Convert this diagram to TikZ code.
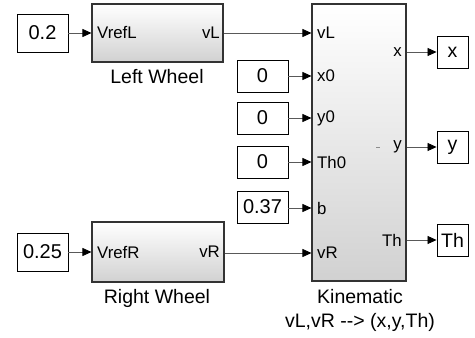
\documentclass[tikz,border=0pt]{standalone}
\usepackage{fontspec}
\setmainfont{Liberation Sans}
\usetikzlibrary{arrows.meta}
\begin{document}
\begin{tikzpicture}[x=1pt,y=-1pt,
  blk/.style={draw=black!80, line width=1.1pt, top color=white, bottom color=black!18, inner sep=0pt},
  cst/.style={draw=black, line width=0.9pt, fill=white, inner sep=0pt, font=\fontsize{20}{24}\selectfont},
  outb/.style={draw=black, line width=0.9pt, fill=white, inner sep=0pt, minimum width=31pt, minimum height=32pt, font=\fontsize{19.5}{23}\selectfont},
  port/.style={inner sep=0pt, font=\fontsize{16.8}{20}\selectfont},
  lbl/.style={inner sep=0pt, font=\fontsize{19.5}{23}\selectfont},
  sig/.style={draw=black!65, line width=0.8pt, -{Triangle[length=9pt,width=8pt,color=black]}}
]
\useasboundingbox (0,0) rectangle (475,338);
\fill[white] (0,0) rectangle (475,338);

% blocks
\node[blk, minimum width=131pt, minimum height=58pt] (LW) at (157.5,33) {};
\node[blk, minimum width=132pt, minimum height=60pt] (RW) at (158,252) {};
\node[blk, minimum width=94pt, minimum height=277pt] (K) at (359,142.5) {};

% constants
\node[cst, minimum width=51pt, minimum height=38pt] (c02) at (42.5,33) {0.2};
\node[cst, minimum width=51pt, minimum height=38pt] (c025) at (42.5,252) {0.25};
\node[cst, minimum width=51pt, minimum height=32pt] (c0a) at (262.5,76) {0};
\node[cst, minimum width=51pt, minimum height=32pt] (c0b) at (262.5,118) {0};
\node[cst, minimum width=51pt, minimum height=32pt] (c0c) at (262.5,162) {0};
\node[cst, minimum width=51pt, minimum height=32pt] (c037) at (262.5,207) {0.37};

% outputs
\node[outb] (xo) at (452.5,52) {x};
\node[outb] (yo) at (452.5,147) {y};
\node[outb] (tho) at (452.5,240) {Th};

% port labels
\node[port, anchor=west] (pVrefL) at (97,33) {VrefL};
\node[port, anchor=east] (pvLo) at (220,33) {vL};
\node[port, anchor=west] (pVrefR) at (97,252) {VrefR};
\node[port, anchor=east] (pvRo) at (220,252) {vR};
\node[port, anchor=west] (kvL) at (317,33) {vL};
\node[port, anchor=west] (kx0) at (317,76) {x0};
\node[port, anchor=west] (ky0) at (317,118) {y0};
\node[port, anchor=west] (kTh0) at (317,162) {Th0};
\node[port, anchor=west] (kb) at (317,208) {b};
\node[port, anchor=west] (kvR) at (317,253) {vR};
\node[port, anchor=east] (kx) at (402,52) {x};
\node[port, anchor=east] (ky) at (402,147) {y};
\node[port, anchor=east] (kTh) at (402,240) {Th};

% block labels
\node[lbl] (lLW) at (157,77) {Left Wheel};
\node[lbl] (lRW) at (157,298) {Right Wheel};
\node[lbl] (lK1) at (360,297) {Kinematic};
\node[lbl] (lK2) at (360,322) {vL,vR {-}{-}> (x,y,Th)};

% small mark
\draw[black!45, line width=0.6pt] (376,147) -- (379.5,147);

% signals
\draw[sig] (c02.east) -- (LW.west |- c02.east);
\draw[sig] (c025.east) -- (RW.west |- c025.east);
\draw[sig] (LW.east |- kvL.west) -- (K.west |- kvL.west);
\draw[sig] (RW.east |- kvR.west) -- (K.west |- kvR.west);
\draw[sig] (c0a.east |- kx0.west) -- (K.west |- kx0.west);
\draw[sig] (c0b.east |- ky0.west) -- (K.west |- ky0.west);
\draw[sig] (c0c.east |- kTh0.west) -- (K.west |- kTh0.west);
\draw[sig] (c037.east |- kb.west) -- (K.west |- kb.west);
\draw[sig] (K.east |- xo.west) -- (xo.west);
\draw[sig] (K.east |- yo.west) -- (yo.west);
\draw[sig] (K.east |- tho.west) -- (tho.west);
\end{tikzpicture}
\end{document}
